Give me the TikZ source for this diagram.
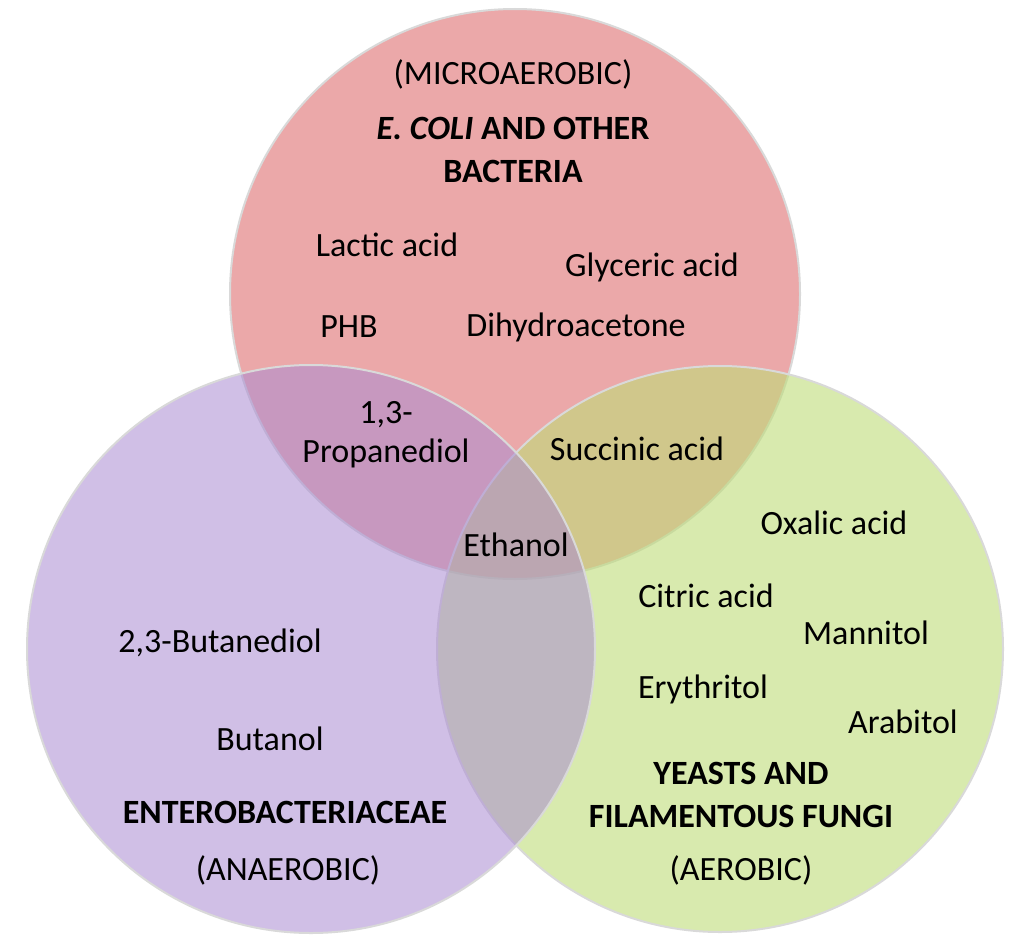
\documentclass[tikz,border=0pt]{standalone}
\usepackage{fontspec}
\setmainfont{Carlito}
\begin{document}
\begin{tikzpicture}[x=0.75pt,y=-0.75pt,
  circ/.style={draw=white!85!black,line width=1.5pt,fill opacity=0.6},
  lbl/.style={font=\fontsize{25.5}{29}\selectfont,align=center},
  hd/.style={font=\fontsize{25.5}{32}\selectfont\bfseries,align=center}]
\useasboundingbox (0,0) rectangle (1024,942);
\fill[white] (0,0) rectangle (1024,942);
\definecolor{cr}{RGB}{222,110,112}
\definecolor{cp}{RGB}{170,140,210}
\definecolor{cg}{RGB}{190,220,120}
\path[circ,fill=cr] (515,294) circle (285);
\path[circ,fill=cg] (720,649) circle (283);
\path[circ,fill=cp,fill opacity=0.55] (311,649) circle (284);
\node[lbl] (m) at (513,74) {(MICROAEROBIC)};
\node[hd] (e) at (513,150) {\textit{E. COLI} AND OTHER\\BACTERIA};
\node[lbl] (la) at (387,245) {Lactic acid};
\node[lbl] (gl) at (652,267) {Glyceric acid};
\node[lbl] (ph) at (349,327) {PHB};
\node[lbl] (dh) at (576,327) {Dihydroacetone};
\node[lbl] (pr) at (386,435) {1,3-\\Propanediol};
\node[lbl] (su) at (637,449) {Succinic acid};
\node[lbl] (et) at (516,545) {Ethanol};
\node[lbl] (ox) at (834,523) {Oxalic acid};
\node[lbl] (ci) at (706,596) {Citric acid};
\node[lbl] (ma) at (866,633) {Mannitol};
\node[lbl] (er) at (703,689) {Erythritol};
\node[lbl] (ar) at (903,722) {Arabitol};
\node[lbl] (bd) at (220,643) {2,3-Butanediol};
\node[lbl] (bu) at (270,739) {Butanol};
\node[hd] (en) at (285,812) {ENTEROBACTERIACEAE};
\node[lbl] (an) at (288,870) {(ANAEROBIC)};
\node[hd] (ye) at (741,795) {YEASTS AND\\FILAMENTOUS FUNGI};
\node[lbl] (ae) at (741,870) {(AEROBIC)};
\end{tikzpicture}
\end{document}
